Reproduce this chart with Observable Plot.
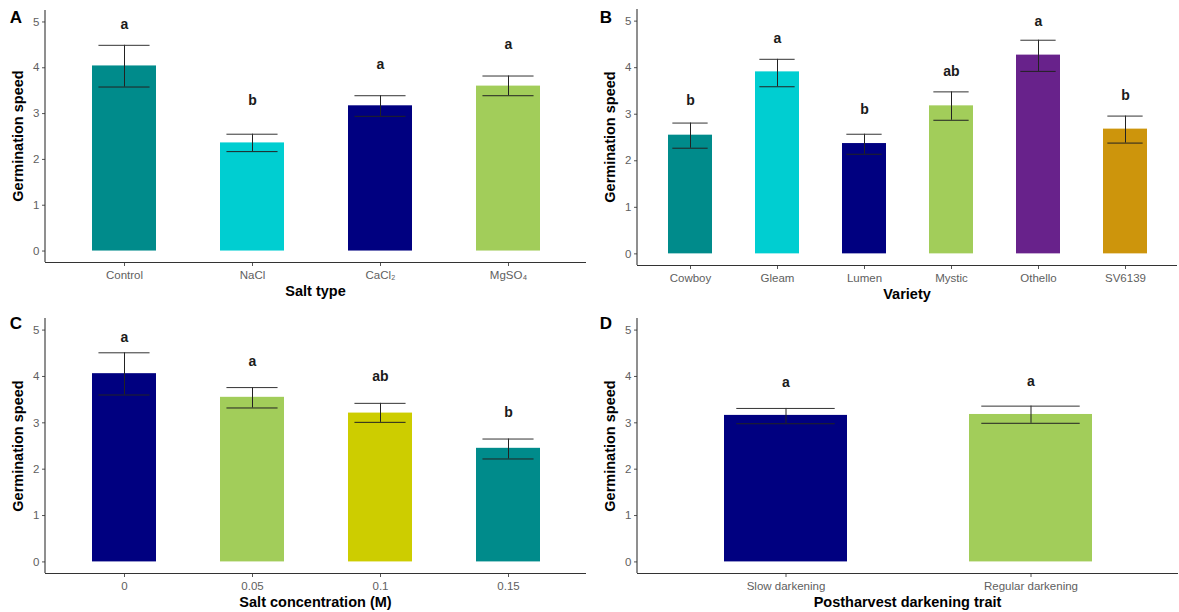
<!DOCTYPE html>
<html>
<head>
<meta charset="utf-8">
<script src="https://cdn.jsdelivr.net/npm/d3@7"></script>
<script src="https://cdn.jsdelivr.net/npm/@observablehq/plot@0.6"></script>
<style>
  html, body { margin: 0; padding: 0; background: #fff; }
  #root { position: relative; width: 1179px; height: 612px; overflow: hidden; font-family: "Liberation Sans", Arial, sans-serif; }
  .panel { position: absolute; }
  .panel svg { display: block; }
  .panel svg [aria-label$="tick label"] text { fill: #606060; }
  .panel svg [aria-label$="tick"] path { stroke: #555; }
  .ttl { position: absolute; font-weight: bold; font-size: 14.5px; color: #000; white-space: nowrap; transform: translate(-50%, -50%); }
  .ytl { transform: translate(-50%, -50%) rotate(-90deg); }
  .lab { position: absolute; font-weight: bold; font-size: 17px; color: #000; transform: translate(-50%, -50%); }
</style>
</head>
<body>
<div id="root"></div>
<script>
// ---- Panel A: salt type ----
const saltTypes   = ["Control", "NaCl", "CaCl\u2082", "MgSO\u2084"];
const saltMeans   = [4.04, 2.36, 3.17, 3.60];
const saltUpper   = [4.49, 2.55, 3.39, 3.82];
const saltLower   = [3.58, 2.17, 2.94, 3.39];
const saltLetters = ["a", "b", "a", "a"];
const saltLetterY = [4.94, 3.28, 4.07, 4.51];
const saltColors  = ["#008B8B", "#00CED1", "#000080", "#A2CD5A"];

// ---- Panel B: variety ----
const varieties      = ["Cowboy", "Gleam", "Lumen", "Mystic", "Othello", "SV6139"];
const varietyMeans   = [2.55, 3.91, 2.37, 3.18, 4.27, 2.68];
const varietyUpper   = [2.81, 4.18, 2.57, 3.48, 4.59, 2.96];
const varietyLower   = [2.27, 3.59, 2.14, 2.87, 3.92, 2.38];
const varietyLetters = ["b", "a", "b", "ab", "a", "b"];
const varietyLetterY = [3.29, 4.63, 3.10, 3.91, 4.99, 3.41];
const varietyColors  = ["#008B8B", "#00CED1", "#000080", "#A2CD5A", "#68228B", "#CD950C"];

// ---- Panel C: salt concentration ----
const concentrations = ["0", "0.05", "0.1", "0.15"];
const concMeans      = [4.06, 3.55, 3.21, 2.45];
const concUpper      = [4.51, 3.76, 3.42, 2.65];
const concLower      = [3.60, 3.32, 3.01, 2.22];
const concLetters    = ["a", "a", "ab", "b"];
const concLetterY    = [4.84, 4.32, 3.99, 3.22];
const concColors     = ["#000080", "#A2CD5A", "#CDCD00", "#008B8B"];

// ---- Panel D: postharvest darkening trait ----
const traits       = ["Slow darkening", "Regular darkening"];
const traitMeans   = [3.16, 3.18];
const traitUpper   = [3.31, 3.36];
const traitLower   = [2.98, 2.99];
const traitLetters = ["a", "a"];
const traitLetterY = [3.88, 3.89];
const traitColors  = ["#000080", "#A2CD5A"];

const yTicks = [0, 1, 2, 3, 4, 5];

function panel(cfg) {
  const {label, xTitle, cats, means, upper, lower, letters, letterY, colors,
         left, top, width, height, ml, mr, mt, mb} = cfg;
  const data = cats.map((c, i) => ({c, m: means[i], u: upper[i], l: lower[i], t: letters[i], ty: letterY[i]}));
  const step = (width - ml - mr) / (cats.length + 0.2);
  const bw = step * 0.5;
  const inset = bw * 0.1;
  const leftLine = (index, scales, values, dims) => {
    const g = d3.create("svg:line")
      .attr("x1", dims.marginLeft).attr("x2", dims.marginLeft)
      .attr("y1", dims.marginTop).attr("y2", dims.height - dims.marginBottom)
      .attr("stroke", "#333").attr("stroke-width", 1.1);
    return g.node();
  };
  const chart = Plot.plot({
    width, height,
    marginLeft: ml, marginRight: mr, marginTop: mt, marginBottom: mb,
    style: {fontFamily: "'Liberation Sans', Arial, sans-serif", fontSize: "11.5px", background: "#fff", color: "#000"},
    x: {type: "band", domain: cats, paddingInner: 0.5, paddingOuter: 0.35, align: 0.5, label: null},
    y: {domain: [-0.25, 5.25], label: null},
    color: {domain: cats, range: colors},
    marks: [
      Plot.barY(data, {x: "c", y: "m", fill: "c"}),
      Plot.ruleX(data, {x: "c", y1: "l", y2: "u", stroke: "#222", strokeWidth: 1}),
      Plot.tickY(data, {x: "c", y: "u", stroke: "#333", strokeWidth: 1, insetLeft: inset, insetRight: inset}),
      Plot.tickY(data, {x: "c", y: "l", stroke: "#222", strokeWidth: 1, insetLeft: inset, insetRight: inset}),
      Plot.text(data, {x: "c", y: "ty", text: "t", fontSize: 14, fontWeight: "bold", fill: "#1a1a1a"}),
      Plot.axisX({tickSize: 4, tickPadding: 4, label: null}),
      Plot.axisY({ticks: yTicks, tickFormat: d3.format("d"), tickSize: 3, tickPadding: 3, label: null}),
      Plot.ruleY([-0.25], {stroke: "#333", strokeWidth: 1.1}),
      leftLine
    ]
  });
  const div = document.createElement("div");
  div.className = "panel";
  div.style.left = left + "px";
  div.style.top = top + "px";
  div.appendChild(chart);
  const root = document.getElementById("root");
  root.appendChild(div);

  const xt = document.createElement("div");
  xt.className = "ttl";
  xt.textContent = xTitle;
  xt.style.left = (left + (ml + width - mr) / 2) + "px";
  xt.style.top = (top + height - mb + 29) + "px";
  root.appendChild(xt);

  const yt = document.createElement("div");
  yt.className = "ttl ytl";
  yt.textContent = "Germination speed";
  yt.style.left = (left + ml - 27) + "px";
  yt.style.top = (top + (mt + height - mb) / 2) + "px";
  root.appendChild(yt);

  const lb = document.createElement("div");
  lb.className = "lab";
  lb.textContent = label;
  lb.style.left = (left + 16) + "px";
  lb.style.top = (top + 18) + "px";
  root.appendChild(lb);
}

panel({label: "A", xTitle: "Salt type", cats: saltTypes, means: saltMeans, upper: saltUpper, lower: saltLower,
       letters: saltLetters, letterY: saltLetterY, colors: saltColors,
       left: 0, top: 0, width: 590, height: 306, ml: 45, mr: 4, mt: 10, mb: 44});
panel({label: "B", xTitle: "Variety", cats: varieties, means: varietyMeans, upper: varietyUpper, lower: varietyLower,
       letters: varietyLetters, letterY: varietyLetterY, colors: varietyColors,
       left: 590, top: 0, width: 589, height: 306, ml: 47, mr: 2, mt: 9, mb: 41});
panel({label: "C", xTitle: "Salt concentration (M)", cats: concentrations, means: concMeans, upper: concUpper, lower: concLower,
       letters: concLetters, letterY: concLetterY, colors: concColors,
       left: 0, top: 306, width: 590, height: 306, ml: 45, mr: 4, mt: 12, mb: 39});
panel({label: "D", xTitle: "Postharvest darkening trait", cats: traits, means: traitMeans, upper: traitUpper, lower: traitLower,
       letters: traitLetters, letterY: traitLetterY, colors: traitColors,
       left: 590, top: 306, width: 589, height: 306, ml: 47, mr: 1, mt: 12, mb: 39});
</script>
</body>
</html>
